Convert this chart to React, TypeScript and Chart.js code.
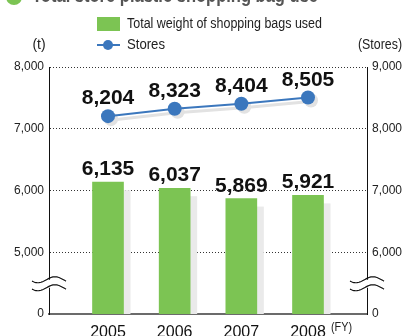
import React, { useEffect, useRef } from "react";
import { Chart, registerables } from "chart.js";

Chart.register(...registerables);

const categories = ["2005", "2006", "2007", "2008"];
const bagWeight = [6135, 6037, 5869, 5921];
const stores = [8204, 8323, 8404, 8505];
const leftTicks = [4000, 5000, 6000, 7000, 8000];
const rightTicks = [5000, 6000, 7000, 8000, 9000];

const GREEN = "#7cc453";
const BLUE = "#3b77bd";
const SHADOW = "#eaeaea";
const SANS = "'Liberation Sans', Arial, sans-serif";

const fmt = (v: number) => v.toLocaleString("en-US");

const decorPlugin = {
  id: "decor",
  beforeDatasetsDraw(chart: any) {
    const ctx = chart.ctx;
    const area = chart.chartArea;
    ctx.save();
    const barMeta = chart.getDatasetMeta(1);
    barMeta.data.forEach((el: any) => {
      const w = el.width;
      const x0 = el.x - w / 2 + 7;
      const y0 = el.y + 8;
      const yb = Math.min(el.base, area.bottom);
      ctx.fillStyle = SHADOW;
      ctx.fillRect(x0, y0, w, yb - y0);
    });
    const lineMeta = chart.getDatasetMeta(0);
    ctx.strokeStyle = "#e2e2e2";
    ctx.lineWidth = 3;
    ctx.beginPath();
    lineMeta.data.forEach((p: any, i: number) => {
      if (i === 0) ctx.moveTo(p.x + 2, p.y + 4);
      else ctx.lineTo(p.x + 2, p.y + 4);
    });
    ctx.stroke();
    ctx.fillStyle = "#e2e2e2";
    lineMeta.data.forEach((p: any) => {
      ctx.beginPath();
      ctx.arc(p.x + 3, p.y + 3, 7, 0, Math.PI * 2);
      ctx.fill();
    });
    ctx.restore();
  },
  afterDatasetsDraw(chart: any) {
    const ctx = chart.ctx;
    ctx.save();
    ctx.fillStyle = "#111";
    ctx.font = `bold 21px ${SANS}`;
    ctx.textAlign = "center";
    ctx.textBaseline = "alphabetic";
    chart.getDatasetMeta(1).data.forEach((el: any, i: number) => {
      ctx.fillText(fmt(bagWeight[i]), el.x, el.y - 7);
    });
    chart.getDatasetMeta(0).data.forEach((p: any, i: number) => {
      ctx.fillText(fmt(stores[i]), p.x, p.y - 12);
    });
    ctx.restore();
  },
  afterDraw(chart: any) {
    const ctx = chart.ctx;
    const { left, right } = chart.chartArea;
    const yL = chart.scales.y;
    ctx.save();
    // axis breaks
    const yb = yL.getPixelForValue(4490);
    const drawBreak = (cx: number) => {
      ctx.fillStyle = "#fff";
      ctx.fillRect(cx - 2, yb - 4, 4, 8);
      ctx.strokeStyle = "#111";
      ctx.lineWidth = 1.2;
      [yb - 4, yb + 4].forEach((yy) => {
        ctx.beginPath();
        for (let k = 0; k <= 34; k++) {
          const xx = cx - 17 + k;
          const yv = yy + 3 * Math.sin((k / 34) * 2 * Math.PI + Math.PI * 0.15);
          if (k === 0) ctx.moveTo(xx, yv);
          else ctx.lineTo(xx, yv);
        }
        ctx.stroke();
      });
    };
    drawBreak(left);
    drawBreak(right);

    // title (cut off at top)
    ctx.fillStyle = GREEN;
    ctx.beginPath();
    ctx.arc(14, -3, 8, 0, Math.PI * 2);
    ctx.fill();
    ctx.fillStyle = "#555";
    ctx.font = `bold 20px ${SANS}`;
    ctx.textAlign = "left";
    ctx.textBaseline = "alphabetic";
    ctx.fillText("Total store plastic shopping bag use", 32, 2, 286);

    // legend
    ctx.fillStyle = GREEN;
    ctx.fillRect(97, 17, 23, 14);
    ctx.strokeStyle = BLUE;
    ctx.lineWidth = 2;
    ctx.beginPath();
    ctx.moveTo(97, 45);
    ctx.lineTo(120, 45);
    ctx.stroke();
    ctx.fillStyle = BLUE;
    ctx.beginPath();
    ctx.arc(108, 45, 5, 0, Math.PI * 2);
    ctx.fill();
    ctx.fillStyle = "#222";
    ctx.font = `14px ${SANS}`;
    ctx.textBaseline = "middle";
    ctx.fillText("Total weight of shopping bags used", 127, 24, 195);
    ctx.fillText("Stores", 127, 45, 38);
    ctx.textAlign = "center";
    ctx.fillText("(t)", 39, 45);
    ctx.textAlign = "right";
    ctx.fillText("(Stores)", 402, 45, 44);
    ctx.textAlign = "left";
    ctx.font = `12px ${SANS}`;
    ctx.fillText("(FY)", 331, 328, 21);
    ctx.restore();
  },
};

export default function App() {
  const ref = useRef<HTMLCanvasElement>(null);
  useEffect(() => {
    document.body.style.margin = "0";
    const chart = new Chart(ref.current as HTMLCanvasElement, {
      type: "bar",
      data: {
        datasets: [
          {
            type: "line",
            label: "Stores",
            data: stores.map((v, i) => ({ x: i, y: v })),
            yAxisID: "y2",
            xAxisID: "x",
            borderColor: BLUE,
            backgroundColor: BLUE,
            borderWidth: 2,
            pointRadius: 7,
            pointBorderWidth: 0,
            pointBackgroundColor: BLUE,
            order: 0,
          } as any,
          {
            type: "bar",
            label: "Total weight of shopping bags used",
            data: bagWeight.map((v, i) => ({ x: i, y: v })),
            yAxisID: "y",
            xAxisID: "x",
            backgroundColor: GREEN,
            barThickness: 31,
            order: 1,
          } as any,
        ],
      },
      options: {
        animation: false,
        responsive: false,
        layout: { padding: { top: 67, left: 0, right: 0, bottom: 0 } },
        plugins: { legend: { display: false }, tooltip: { enabled: false } },
        scales: {
          x: {
            type: "linear",
            offset: false,
            min: -0.885,
            max: 3.885,
            z: 1,
            afterBuildTicks: (axis: any) => {
              axis.ticks = categories.map((_, i) => ({ value: i }));
            },
            afterFit: (axis: any) => {
              axis.height = 22;
            },
            grid: { display: false, drawTicks: false },
            border: { display: true, color: "#6b6b6b", width: 2 },
            ticks: {
              padding: 9,
              color: "#111",
              font: { family: SANS, size: 16 },
              callback: (v: any) => categories[v] ?? "",
              maxRotation: 0,
              autoSkip: false,
            },
          },
          y: {
            position: "left",
            min: 4000,
            max: 8000,
            afterBuildTicks: (axis: any) => {
              axis.ticks = leftTicks.map((v) => ({ value: v }));
            },
            afterFit: (axis: any) => {
              axis.width = 49;
            },
            grid: {
              drawTicks: false,
              color: (c: any) => (c.tick && c.tick.value === 4000 ? "rgba(0,0,0,0)" : "#333"),
              lineWidth: 1,
            },
            border: { display: true, color: "#111", width: 1, dash: [1, 2] },
            ticks: {
              padding: 5,
              color: "#222",
              font: { family: SANS, size: 12 },
              callback: (v: any) => (v === 4000 ? "0" : fmt(v)),
            },
          },
          y2: {
            position: "right",
            min: 5000,
            max: 9000,
            afterBuildTicks: (axis: any) => {
              axis.ticks = rightTicks.map((v) => ({ value: v }));
            },
            afterFit: (axis: any) => {
              axis.width = 37;
            },
            grid: { display: false, drawTicks: false },
            border: { display: true, color: "#111", width: 1 },
            ticks: {
              padding: 5,
              color: "#222",
              font: { family: SANS, size: 12 },
              callback: (v: any) => (v === 5000 ? "0" : fmt(v)),
            },
          },
        },
      },
      plugins: [decorPlugin],
    } as any);
    return () => chart.destroy();
  }, []);
  return (
    <div style={{ position: "absolute", left: 0, top: 0, width: 404, height: 336, background: "#fff" }}>
      <canvas ref={ref} width={404} height={336} style={{ display: "block" }} />
    </div>
  );
}
